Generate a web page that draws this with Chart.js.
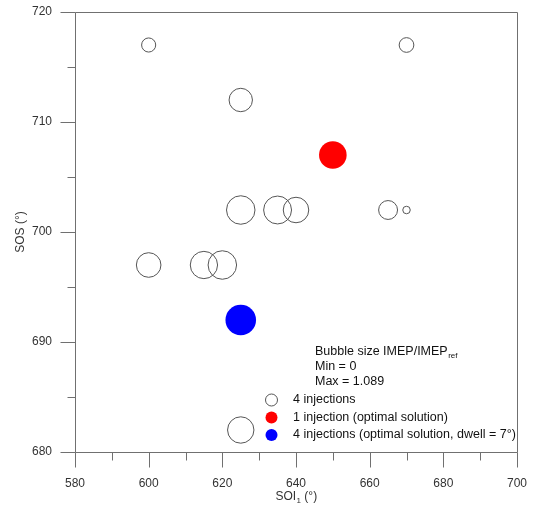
<!DOCTYPE html>
<html><head><meta charset="utf-8">
<script src="https://cdn.jsdelivr.net/npm/chart.js@4/dist/chart.umd.min.js"></script>
<style>html,body{margin:0;padding:0;background:#fff;}</style>
</head><body>
<canvas id="c" width="533" height="506"></canvas>
<script>
// ---- data ----
const soi1 = [600, 670, 625, 625, 635, 640, 665, 670, 600, 615, 620, 625];
const sos  = [717, 717, 712, 702, 702, 702, 702, 702, 697, 697, 697, 682];
const imepRatio = [0.47, 0.49, 0.78, 0.95, 0.93, 0.85, 0.63, 0.25, 0.82, 0.91, 0.95, 0.88];
const optSoi1 = [650];
const optSos = [707];
const optImepRatio = [0.92];
const dwellSoi1 = [625];
const dwellSos = [692];
const dwellImepRatio = [1.02];
const xTickValues = [580, 600, 620, 640, 660, 680, 700];
const yTickValues = [680, 690, 700, 710, 720];
const xMinorValues = [590, 610, 630, 650, 670, 690];
const yMinorValues = [685, 695, 705, 715];
const legendTitle = ['Bubble size IMEP/IMEP', 'ref'];
const legendMin = 'Min = 0';
const legendMax = 'Max = 1.089';
const seriesNames = ['4 injections', '1 injection (optimal solution)', '4 injections (optimal solution, dwell = 7°)'];
const xTitle = ['SOI', '1', ' (°)'];
const yTitle = 'SOS (°)';

// ---- styling ----
const R_SCALE = 15;
const FONT = "'Liberation Sans', Arial, sans-serif";
const FRAME = '#707070';
const TEXT = '#333333';

function pts(xs, ys, rs) {
  return xs.map((x, i) => ({ x: x, y: ys[i], r: rs[i] * R_SCALE }));
}

function richText(ctx, parts, x, y, align, size) {
  const big = size + 'px ' + FONT, small = Math.round(size * 0.65) + 'px ' + FONT;
  ctx.font = big; const w0 = ctx.measureText(parts[0]).width;
  ctx.font = small; const w1 = parts[1] ? ctx.measureText(parts[1]).width : 0;
  ctx.font = big; const w2 = parts[2] ? ctx.measureText(parts[2]).width : 0;
  let sx = x;
  if (align === 'center') sx = x - (w0 + w1 + w2) / 2;
  ctx.textAlign = 'left'; ctx.textBaseline = 'middle';
  ctx.font = big; ctx.fillText(parts[0], sx, y);
  if (parts[1]) { ctx.font = small; ctx.fillText(parts[1], sx + w0 + 0.5, y + 4); }
  if (parts[2]) { ctx.font = big; ctx.fillText(parts[2], sx + w0 + w1 + 0.5, y); }
}

function noPad(s) { s.paddingTop = 0; s.paddingBottom = 0; s.paddingLeft = 0; s.paddingRight = 0; }

const deco = {
  id: 'deco',
  afterDraw(chart) {
    const ctx = chart.ctx, xs = chart.scales.x, ys = chart.scales.y, a = chart.chartArea;
    const L = Math.round(a.left) + 0.5, R = Math.round(a.right) + 0.5;
    const T = Math.round(a.top) + 0.5, B = Math.round(a.bottom) + 0.5;
    ctx.save();
    ctx.strokeStyle = FRAME; ctx.lineWidth = 1;
    ctx.beginPath();
    ctx.rect(L, T, R - L, B - T);
    xTickValues.forEach(v => { const p = Math.round(xs.getPixelForValue(v)) + 0.5; ctx.moveTo(p, B); ctx.lineTo(p, B + 15); });
    xMinorValues.forEach(v => { const p = Math.round(xs.getPixelForValue(v)) + 0.5; ctx.moveTo(p, B); ctx.lineTo(p, B + 8); });
    yTickValues.forEach(v => { const p = Math.round(ys.getPixelForValue(v)) + 0.5; ctx.moveTo(L, p); ctx.lineTo(L - 15, p); });
    yMinorValues.forEach(v => { const p = Math.round(ys.getPixelForValue(v)) + 0.5; ctx.moveTo(L, p); ctx.lineTo(L - 8, p); });
    ctx.stroke();

    ctx.fillStyle = TEXT;
    richText(ctx, xTitle, (a.left + a.right) / 2, 497, 'center', 12);
    ctx.save();
    ctx.translate(21, (a.top + a.bottom) / 2);
    ctx.rotate(-Math.PI / 2);
    ctx.font = '12px ' + FONT; ctx.textAlign = 'center'; ctx.textBaseline = 'middle';
    ctx.fillText(yTitle, 0, 0);
    ctx.restore();

    ctx.fillStyle = '#111';
    richText(ctx, legendTitle, 315, 352, 'left', 12.5);
    ctx.font = '12.5px ' + FONT; ctx.textAlign = 'left'; ctx.textBaseline = 'middle';
    ctx.fillText(legendMin, 315, 367);
    ctx.fillText(legendMax, 315, 382);
    const rows = [400, 417.5, 435];
    const styles = [{ f: null, s: '#555' }, { f: '#ff0000' }, { f: '#0000ff' }];
    rows.forEach((yy, i) => {
      ctx.beginPath();
      ctx.arc(271.5, yy, 6, 0, Math.PI * 2);
      if (styles[i].f) { ctx.fillStyle = styles[i].f; ctx.fill(); }
      else { ctx.strokeStyle = styles[i].s; ctx.lineWidth = 1; ctx.stroke(); }
      ctx.fillStyle = '#111';
      ctx.fillText(seriesNames[i], 293, yy);
    });
    ctx.restore();
  }
};

new Chart(document.getElementById('c'), {
  type: 'bubble',
  data: {
    datasets: [
      { label: seriesNames[0], data: pts(soi1, sos, imepRatio), backgroundColor: 'rgba(0,0,0,0)', borderColor: '#555555', borderWidth: 1 },
      { label: seriesNames[1], data: pts(optSoi1, optSos, optImepRatio), backgroundColor: '#ff0000', borderColor: '#ff0000', borderWidth: 0 },
      { label: seriesNames[2], data: pts(dwellSoi1, dwellSos, dwellImepRatio), backgroundColor: '#0000ff', borderColor: '#0000ff', borderWidth: 0 }
    ]
  },
  options: {
    responsive: false,
    animation: false,
    devicePixelRatio: 1,
    events: [],
    layout: { autoPadding: false, padding: { left: 0, right: 16, top: 12, bottom: 0 } },
    plugins: { legend: { display: false }, tooltip: { enabled: false }, title: { display: false } },
    scales: {
      x: {
        type: 'linear', min: 580, max: 700,
        afterFit: s => { s.height = 54; noPad(s); },
        afterBuildTicks: s => { s.ticks = xTickValues.map(v => ({ value: v })); },
        grid: { display: false, drawTicks: false },
        border: { display: false },
        ticks: { padding: 24, color: TEXT, font: { family: FONT, size: 12 }, maxRotation: 0 }
      },
      y: {
        type: 'linear', min: 680, max: 720,
        afterFit: s => { s.width = 75; noPad(s); },
        afterBuildTicks: s => { s.ticks = yTickValues.map(v => ({ value: v })); },
        grid: { display: false, drawTicks: false },
        border: { display: false },
        ticks: { padding: 23, color: TEXT, font: { family: FONT, size: 12 } }
      }
    }
  },
  plugins: [deco]
});
</script>
</body></html>
